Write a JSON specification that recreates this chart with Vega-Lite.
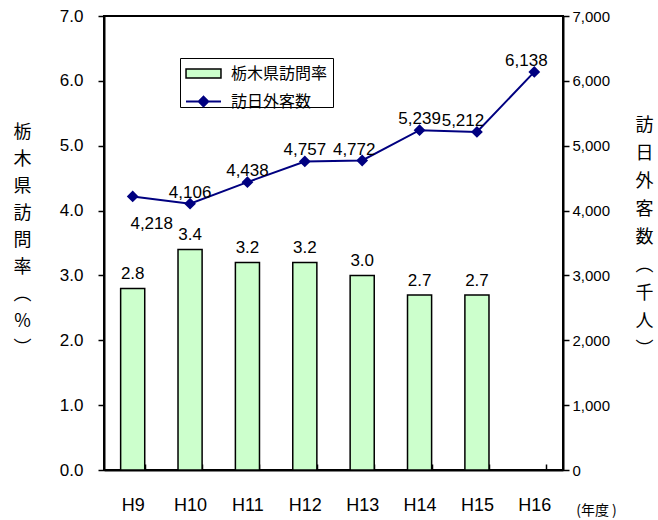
{
  "$schema": "https://vega.github.io/schema/vega-lite/v6.json",
  "width": 459,
  "height": 454,
  "autosize": {"type": "none"},
  "padding": {"left": 104, "top": 16, "right": 95, "bottom": 50},
  "background": "white",
  "config": {
    "view": {"stroke": "black", "strokeWidth": 2},
    "font": "Liberation Sans",
    "axis": {"domainColor": "black", "domainWidth": 2, "tickColor": "black", "tickWidth": 1.5, "labelColor": "black", "titleColor": "black", "grid": false},
    "legend": {"labelFont": "Noto Sans CJK JP", "labelFontSize": 16, "labelColor": "black", "padding": 5, "symbolSize": 361, "symbolOffset": 8, "labelOffset": 17}
  },
  "data": {
    "values": [
      {"year": "H9", "rate": 2.8, "visitors": 4218},
      {"year": "H10", "rate": 3.4, "visitors": 4106},
      {"year": "H11", "rate": 3.2, "visitors": 4438},
      {"year": "H12", "rate": 3.2, "visitors": 4757},
      {"year": "H13", "rate": 3.0, "visitors": 4772},
      {"year": "H14", "rate": 2.7, "visitors": 5239},
      {"year": "H15", "rate": 2.7, "visitors": 5212},
      {"year": "H16", "rate": null, "visitors": 6138}
    ]
  },
  "encoding": {
    "x": {
      "field": "year", "type": "nominal", "sort": null,
      "scale": {"paddingInner": 0.58, "paddingOuter": 0.29},
      "axis": {
        "labelAngle": 0, "labelFontSize": 18, "labelPadding": 32, "tickBand": "extent", "tickSize": -6,
        "title": "(年度 )", "titleFont": "Noto Sans CJK JP", "titleFontSize": 14, "titleFontWeight": "normal",
        "titleX": 492, "titleY": 40, "titleAlign": "center", "titleBaseline": "middle", "titleAnchor": "start"
      }
    }
  },
  "layer": [
    {
      "layer": [
        {
          "mark": {"type": "bar", "stroke": "black", "strokeWidth": 1.5},
          "encoding": {
            "y": {
              "field": "rate", "type": "quantitative", "scale": {"domain": [0, 7]},
              "axis": {
                "orient": "left", "values": [0, 1, 2, 3, 4, 5, 6, 7], "format": ".1f",
                "labelFontSize": 17, "labelPadding": 15, "tickSize": 6,
                "title": ["栃", "木", "県", "訪", "問", "率", "︵", "%", "︶"],
                "titleAngle": 0, "titleFont": "Noto Sans CJK JP", "titleFontSize": 18, "titleFontWeight": "normal",
                "titleLineHeight": 27, "titleX": -82, "titleY": 107, "titleAlign": "center", "titleBaseline": "top"
              }
            },
            "fill": {
              "datum": "栃木県訪問率",
              "scale": {"domain": ["栃木県訪問率"], "range": ["#CCFFCC"]},
              "legend": {
                "orient": "none", "legendX": 76, "legendY": 42,
                "title": " ", "titleOrient": "bottom", "titleFontSize": 14, "titlePadding": 6,
                "strokeColor": "black", "fillColor": "white",
                "symbolType": "M-1.84,-0.47H1.84V0.47H-1.84Z", "symbolStrokeColor": "black", "symbolStrokeWidth": 1.5
              }
            }
          }
        },
        {
          "mark": {"type": "text", "baseline": "alphabetic", "dy": -9, "fontSize": 17, "color": "black"},
          "encoding": {
            "y": {"field": "rate", "type": "quantitative"},
            "text": {"field": "rate", "type": "quantitative", "format": ".1f"}
          }
        }
      ]
    },
    {
      "layer": [
        {
          "mark": {"type": "line", "strokeWidth": 2, "point": {"shape": "diamond", "filled": true, "size": 80, "color": "#000080"}},
          "encoding": {
            "y": {
              "field": "visitors", "type": "quantitative", "scale": {"domain": [0, 7000]},
              "axis": {
                "orient": "right", "values": [0, 1000, 2000, 3000, 4000, 5000, 6000, 7000], "format": ",.0f",
                "labelFontSize": 15, "labelPadding": 3, "tickSize": 6,
                "title": ["訪", "日", "外", "客", "数", "︵", "千", "人", "︶"],
                "titleAngle": 0, "titleFont": "Noto Sans CJK JP", "titleFontSize": 18, "titleFontWeight": "normal",
                "titleLineHeight": 28, "titleX": 81, "titleY": 100, "titleAlign": "center", "titleBaseline": "top"
              }
            },
            "stroke": {
              "datum": "訪日外客数",
              "scale": {"domain": ["訪日外客数"], "range": ["#000080"]},
              "legend": {
                "orient": "none", "legendX": 76, "legendY": 70, "title": null,
                "symbolType": "M-1.84,0H1.84M0,-0.5L0.5,0L0,0.5L-0.5,0Z",
                "symbolStrokeColor": "#000080", "symbolFillColor": "#000080", "symbolStrokeWidth": 2
              }
            }
          }
        },
        {
          "transform": [{"filter": "indexof(['H9','H13','H15','H16'], datum.year) < 0"}],
          "mark": {"type": "text", "baseline": "alphabetic", "dy": -6, "fontSize": 17, "color": "black"},
          "encoding": {
            "y": {"field": "visitors", "type": "quantitative"},
            "text": {"field": "visitors", "type": "quantitative", "format": ",.0f"}
          }
        },
        {
          "transform": [{"filter": "datum.year == 'H9'"}],
          "mark": {"type": "text", "baseline": "alphabetic", "dy": 33, "dx": 19, "fontSize": 17, "color": "black"},
          "encoding": {
            "y": {"field": "visitors", "type": "quantitative"},
            "text": {"field": "visitors", "type": "quantitative", "format": ",.0f"}
          }
        },
        {
          "transform": [{"filter": "datum.year == 'H13' || datum.year == 'H16'"}],
          "mark": {"type": "text", "baseline": "alphabetic", "dy": -6, "dx": -8, "fontSize": 17, "color": "black"},
          "encoding": {
            "y": {"field": "visitors", "type": "quantitative"},
            "text": {"field": "visitors", "type": "quantitative", "format": ",.0f"}
          }
        },
        {
          "transform": [{"filter": "datum.year == 'H15'"}],
          "mark": {"type": "text", "baseline": "alphabetic", "dy": -6, "dx": -14, "fontSize": 17, "color": "black"},
          "encoding": {
            "y": {"field": "visitors", "type": "quantitative"},
            "text": {"field": "visitors", "type": "quantitative", "format": ",.0f"}
          }
        }
      ]
    }
  ],
  "resolve": {"scale": {"y": "independent"}}
}
